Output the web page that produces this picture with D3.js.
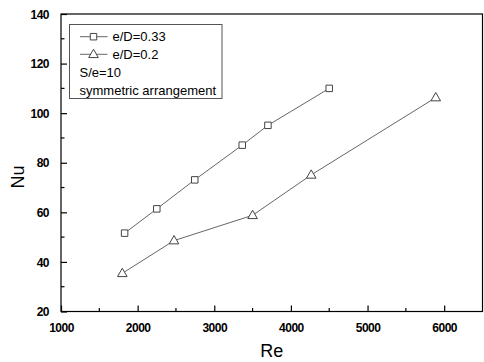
<!DOCTYPE html>
<html><head><meta charset="utf-8">
<script src="https://cdn.jsdelivr.net/npm/d3@7"></script>
<style>body{margin:0;background:#fff}svg{display:block}text{font-family:"Liberation Sans",Arial,sans-serif}</style>
</head><body><svg id="c" width="484" height="362"></svg>
<script>
const reSquare = [1830, 2250, 2745, 3365, 3700, 4500];
const nuSquare = [51.6, 61.4, 73.1, 87.1, 95.1, 110];
const reTriangle = [1800, 2475, 3500, 4265, 5890];
const nuTriangle = [35.4, 48.6, 58.8, 75.1, 106.3];
const xTicks = [1000, 2000, 3000, 4000, 5000, 6000];
const yTicks = [20, 40, 60, 80, 100, 120, 140];
const seriesNames = ["e/D=0.33", "e/D=0.2"];
const notes = ["S/e=10", "symmetric arrangement"];

const svg = d3.select("#c");
const m = {l:61, r:482.5, t:14, b:311.5};
const x = d3.scaleLinear().domain([1000, 6500]).range([m.l, m.r]);
const y = d3.scaleLinear().domain([20, 140]).range([m.b, m.t]);

// frame
svg.append("rect").attr("x", m.l).attr("y", m.t).attr("width", m.r-m.l).attr("height", m.b-m.t)
  .attr("fill","none").attr("stroke","#000").attr("stroke-width",1.2);

// x axis
const xa = svg.append("g").attr("transform",`translate(0,${m.b})`)
  .call(d3.axisBottom(x).tickValues(xTicks).tickSize(-6).tickPadding(12).tickFormat(d3.format("d")));
xa.select(".domain").remove();
xa.selectAll("line").attr("stroke-width",1.2);
const xMinor = d3.range(1500, 6500, 1000);
xa.selectAll(".mn").data(xMinor).enter().append("line").attr("x1",d=>x(d)).attr("x2",d=>x(d)).attr("y1",0).attr("y2",-3.5).attr("stroke","#000").attr("stroke-width",1.2);
xa.selectAll("text").attr("font-size",12).attr("font-weight","bold").attr("letter-spacing",-0.5).attr("fill","#000");

// y axis
const ya = svg.append("g").attr("transform",`translate(${m.l},0)`)
  .call(d3.axisLeft(y).tickValues(yTicks).tickSize(-6).tickPadding(12).tickFormat(d3.format("d")));
ya.select(".domain").remove();
ya.selectAll("line").attr("stroke-width",1.2);
const yMinor = d3.range(30, 140, 20);
ya.selectAll(".mn").data(yMinor).enter().append("line").attr("y1",d=>y(d)).attr("y2",d=>y(d)).attr("x1",0).attr("x2",3.5).attr("stroke","#000").attr("stroke-width",1.2);
ya.selectAll("text").attr("font-size",12).attr("font-weight","bold").attr("letter-spacing",-0.5).attr("fill","#000").attr("dy","0.35em");

// axis titles
svg.append("text").attr("x", x(3750)).attr("y", 357).attr("text-anchor","middle").attr("font-size",18).text("Re");
svg.append("text").attr("transform","translate(24,177) rotate(-90)").attr("text-anchor","middle").attr("font-size",18).text("Nu");

const lineC = "#666", markC = "#444";
const line = d3.line().x(d=>x(d[0])).y(d=>y(d[1]));
const sq = reSquare.map((r,i)=>[r, nuSquare[i]]);
const tr = reTriangle.map((r,i)=>[r, nuTriangle[i]]);
svg.append("path").attr("d", line(sq)).attr("fill","none").attr("stroke",lineC).attr("stroke-width",1);
svg.append("path").attr("d", line(tr)).attr("fill","none").attr("stroke",lineC).attr("stroke-width",1);
const sqSym = d3.symbol().type(d3.symbolSquare).size(42);
const trSym = d3.symbol().type(d3.symbolTriangle).size(40);
svg.selectAll(".sq").data(sq).enter().append("path")
  .attr("transform",d=>`translate(${x(d[0])},${y(d[1])})`).attr("d",sqSym())
  .attr("fill","#fff").attr("stroke",markC).attr("stroke-width",1);
svg.selectAll(".tr").data(tr).enter().append("path")
  .attr("transform",d=>`translate(${x(d[0])},${y(d[1])+0.5})`).attr("d",trSym())
  .attr("fill","#fff").attr("stroke",markC).attr("stroke-width",1);

// legend
const lg = svg.append("g");
lg.append("rect").attr("x",69.5).attr("y",24.5).attr("width",152.5).attr("height",74).attr("fill","#fff").attr("stroke","#555").attr("stroke-width",1);
const rows = [36.7, 54.3];
[sqSym, trSym].forEach((s,i)=>{
  lg.append("line").attr("x1",80).attr("x2",107.5).attr("y1",rows[i]).attr("y2",rows[i]).attr("stroke",lineC);
  lg.append("path").attr("transform",`translate(93.5,${rows[i]+(i?0.5:0)})`).attr("d",s()).attr("fill","#fff").attr("stroke",markC);
  lg.append("text").attr("x",112.5).attr("y",rows[i]).attr("dy","0.35em").attr("font-size",13).text(seriesNames[i]);
});
notes.forEach((t,i)=>{
  lg.append("text").attr("x",79.5).attr("y",72+i*18).attr("dy","0.35em").attr("font-size",13).text(t);
});
</script></body></html>
